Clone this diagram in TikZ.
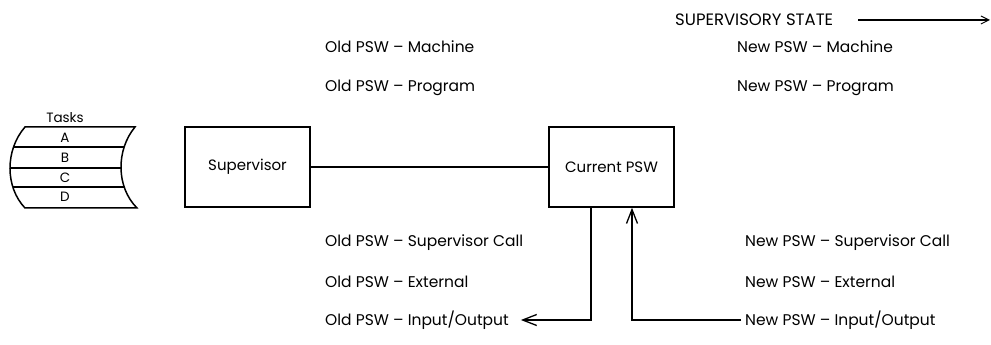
\documentclass[tikz,border=0pt]{standalone}
\usepackage{fontspec}
\setmainfont{Poppins}
\usetikzlibrary{arrows.meta}
\begin{document}
\begin{tikzpicture}[x=1pt,y=1pt,
  lbl/.style={font=\fontsize{15.5}{18}\selectfont, inner sep=1pt, anchor=west},
  small/.style={font=\fontsize{13.5}{15}\selectfont, inner sep=1pt},
  boxnode/.style={draw, line width=1.5pt, minimum width=125pt, minimum height=80pt, font=\fontsize{15}{17}\selectfont, inner sep=0pt},
  conn/.style={line width=1.5pt},
  tip/.style={-{Straight Barb[length=14pt,width=11pt,line width=1.3pt]}}
]
\useasboundingbox (0,0) rectangle (991,345);
% Tasks shape
\path[draw, line width=1.5pt] (25,218) -- (135,218) .. controls (116,195) and (116,158) .. (137,137) -- (25,137) .. controls (5,158) and (5,195) .. (25,218) -- cycle;
\begin{scope}
\clip (25,218) -- (135,218) .. controls (116,195) and (116,158) .. (137,137) -- (25,137) .. controls (5,158) and (5,195) .. (25,218) -- cycle;
\draw[line width=1.3pt] (0,198) -- (150,198);
\draw[line width=1.3pt] (0,177) -- (150,177);
\draw[line width=1.3pt] (0,158) -- (150,158);
\end{scope}
\node[small] (tasks) at (65,227) {Tasks};
\node[small] (ta) at (65,207) {A};
\node[small] (tb) at (65,187) {B};
\node[small] (tc) at (65,167) {C};
\node[small] (td) at (65,148) {D};
% boxes
\node[boxnode] (sup) at (247.5,178) {Supervisor};
\node[boxnode] (cur) at (611.5,178) {Current PSW};
\draw[conn] (sup.east) -- (cur.west);
% labels
\node[lbl] (oldm) at (324,298) {Old PSW -- Machine};
\node[lbl] (oldp) at (324,257) {Old PSW -- Program};
\node[lbl] (olds) at (324,102) {Old PSW -- Supervisor Call};
\node[lbl] (olde) at (324,63) {Old PSW -- External};
\node[lbl] (oldio) at (324,25) {Old PSW -- Input/Output};
\node[lbl] (newm) at (736,298) {New PSW -- Machine};
\node[lbl] (newp) at (736,257) {New PSW -- Program};
\node[lbl] (news) at (744,102) {New PSW -- Supervisor Call};
\node[lbl] (newe) at (744,63) {New PSW -- External};
\node[lbl] (newio) at (744,25) {New PSW -- Input/Output};
\node[lbl, font=\fontsize{16.5}{19}\selectfont] (sstate) at (674,325) {SUPERVISORY STATE};
\coordinate (send) at (990,325);
\coordinate (oldtip) at ([xshift=11pt]oldio.east);
\coordinate (newtail) at ([xshift=-3pt]newio.west);
% connectors
\draw[conn, tip] ([xshift=-20.5pt]cur.south) |- (oldtip);
\draw[conn, tip] (newtail) -| ([xshift=20.5pt]cur.south);
\draw[line width=1.2pt, -{Straight Barb[length=8pt,width=8pt,line width=1pt]}] ([xshift=24pt]sstate.east) -- (send);
\end{tikzpicture}
\end{document}
